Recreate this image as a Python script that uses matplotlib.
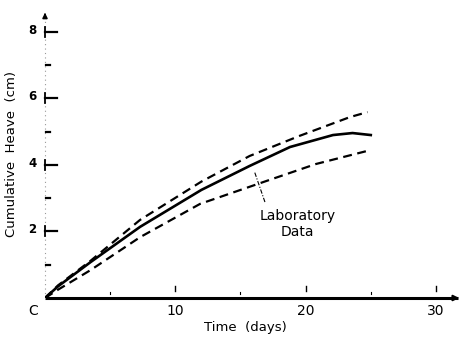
import matplotlib
matplotlib.use("Agg")
import matplotlib.pyplot as plt

# Data
solid_days = [0, 1, 3.5, 7.3, 12, 15.7, 18.8, 22.1, 23.6, 25]
solid_heave = [0, 0.35, 1.08, 2.14, 3.25, 3.97, 4.54, 4.9, 4.96, 4.9]
upper_days = [0, 1, 3.5, 7.3, 12, 15.7, 19.5, 23.4, 24.75]
upper_heave = [0, 0.38, 1.12, 2.35, 3.5, 4.27, 4.87, 5.44, 5.59]
lower_days = [0, 1, 3.5, 7.3, 11.9, 17, 20.8, 25]
lower_heave = [0, 0.25, 0.84, 1.83, 2.83, 3.52, 4.03, 4.45]
x_ticks = [0, 10, 20, 30]
x_tick_labels = ["C", "10", "20", "30"]
y_ticks = [2, 4, 6, 8]
y_tick_labels = ["2", "4", "6", "8"]

W, H = 463, 339
fig = plt.figure(figsize=(W / 100, H / 100), dpi=100)
ax = fig.add_axes([45 / W, (H - 298) / H, (462 - 45) / W, (298 - 10) / H])
ax.set_xlim(0, 32)
ax.set_ylim(0, 8.66)
for s in ax.spines.values():
    s.set_visible(False)
ax.set_xticks([])
ax.set_yticks([])

# axes lines
ax.plot([0, 31.7], [0, 0], color="black", lw=2.2, clip_on=False, solid_capstyle="butt")
ax.annotate("", xy=(32, 0), xytext=(31.3, 0),
            arrowprops=dict(arrowstyle="-|>", color="black", lw=1.5, mutation_scale=8),
            annotation_clip=False)
ax.plot([0, 0], [0, 8.5], color="#999999", lw=0.8, ls=(0, (1, 3)), clip_on=False)
ax.annotate("", xy=(0, 8.66), xytext=(0, 8.4),
            arrowprops=dict(arrowstyle="-|>", color="black", lw=1.2, mutation_scale=7),
            annotation_clip=False)

# y ticks (major to the right of the axis, minor small dashes)
for v in y_ticks:
    ax.plot([0, 0.95], [v, v], color="black", lw=1.6, clip_on=False)
    ax.plot([0, 0], [v - 0.15, v + 0.15], color="black", lw=1.3, clip_on=False)
for v in [1, 3, 5, 7]:
    ax.plot([0.05, 0.35], [v, v], color="black", lw=1.6, clip_on=False)
# x ticks (small marks floating above the axis)
for d in [5, 15, 25]:
    ax.plot([d, d], [0.13, 0.19], color="black", lw=0.8)
for d in [10, 20, 30]:
    ax.plot([d, d], [0.2, 0.36], color="black", lw=1.0)

# curves
ax.plot(solid_days, solid_heave, color="black", lw=1.9)
ax.plot(upper_days, upper_heave, color="black", lw=1.6, ls=(0, (4, 2.5)))
ax.plot(lower_days, lower_heave, color="black", lw=1.6, ls=(0, (4, 2.5)))

# tick labels
for v, lab in zip(x_ticks, x_tick_labels):
    ax.text(-0.9 if v == 0 else v, -0.38, lab, ha="center", va="center", fontsize=10)
for v, lab in zip(y_ticks, y_tick_labels):
    ax.text(-0.95, v + 0.05, lab, ha="center", va="center", fontsize=8.5, fontweight="bold")

# axis labels
fig.text(245 / W, 1 - 328 / H, "Time  (days)", ha="center", va="center", fontsize=9.5)
fig.text(12 / W, 1 - 154 / H, "Cumulative  Heave  (cm)", ha="center", va="center",
         fontsize=9.5, rotation=90)

# annotation
ax.text(19.4, 2.22, "Laboratory\nData", ha="center", va="center", fontsize=10, linespacing=1.15)
ax.plot([16.1, 16.9], [3.77, 2.86], color="black", lw=0.8, ls=(0, (4, 1.5, 1, 1.5)))

fig.savefig("out.png", dpi=100)
